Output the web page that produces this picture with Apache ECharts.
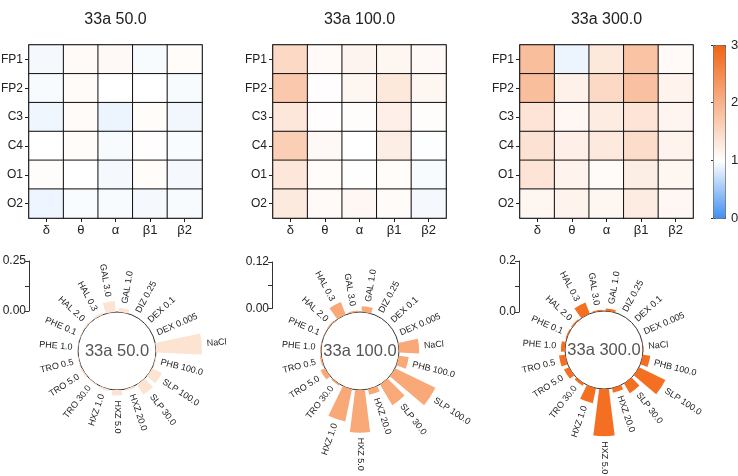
<!DOCTYPE html>
<html>
<head>
<meta charset="utf-8">
<script src="https://cdn.jsdelivr.net/npm/echarts@6/dist/echarts.min.js"></script>
<style>
  html, body { margin: 0; padding: 0; background: #fff; }
  #chart { width: 738px; height: 476px; }
</style>
</head>
<body>
<div id="chart"></div>
<script>
// heatmap axes
const bands = ['δ', 'θ', 'α', 'β1', 'β2'];
const channels = ['FP1', 'FP2', 'C3', 'C4', 'O1', 'O2'];
const doses = ['33a 50.0', '33a 100.0', '33a 300.0'];

// rows = channels, cols = bands
const heat50 = [
  [0.95, 1.06, 1.08, 0.96, 1.04],
  [0.96, 1.05, 1.00, 1.00, 0.96],
  [0.92, 1.05, 0.90, 1.04, 0.93],
  [1.00, 1.04, 0.96, 1.02, 0.97],
  [1.03, 1.00, 0.95, 1.04, 0.95],
  [0.91, 0.97, 0.96, 0.95, 0.96]
];
const heat100 = [
  [1.50, 1.06, 1.14, 1.12, 1.08],
  [1.70, 1.02, 1.12, 1.30, 1.12],
  [1.32, 1.02, 1.03, 1.20, 1.03],
  [1.62, 1.08, 1.00, 1.22, 0.99],
  [1.32, 1.04, 1.01, 1.04, 0.96],
  [1.27, 1.06, 1.10, 1.05, 0.95]
];
const heat300 = [
  [1.85, 0.90, 1.30, 1.78, 1.07],
  [1.85, 1.18, 1.50, 1.80, 1.15],
  [1.35, 1.10, 1.25, 1.35, 1.13],
  [1.38, 1.20, 1.28, 1.45, 1.15],
  [1.35, 1.15, 1.05, 1.22, 1.12],
  [1.12, 1.15, 1.12, 1.25, 1.10]
];

// polar bars, clockwise from the top
const drugs = ['GAL 1.0', 'DIZ 0.25', 'DEX 0.1', 'DEX 0.005', 'NaCl', 'PHB 100.0',
  'SLP 100.0', 'SLP 30.0', 'HXZ 20.0', 'HXZ 5.0', 'HXZ 1.0', 'TRO 30.0', 'TRO 5.0',
  'TRO 0.5', 'PHE 1.0', 'PHE 0.1', 'HAL 2.0', 'HAL 0.3', 'GAL 3.0'];
const bars50 = [0.02, 0, 0, 0, 0.23, 0.005, 0.055, 0.06, 0.01, 0.028, 0.01, 0.005,
  0.01, 0.005, 0.003, 0.003, 0.008, 0.01, 0.055];
const bars100 = [0.015, 0, 0, 0, 0.052, 0.026, 0.116, 0.062, 0.015, 0.11, 0.085, 0.004,
  0.013, 0.004, 0.002, 0.001, 0.003, 0.035, 0.004];
const bars300 = [0.01, 0, 0, 0, 0.002, 0.03, 0.115, 0.044, 0.018, 0.185, 0.06, 0.01,
  0.022, 0.025, 0.016, 0.005, 0.005, 0.047, 0.005];

const scaleMax = [0.25, 0.12, 0.2];
const scaleDigits = [2, 2, 1];

const heats = [heat50, heat100, heat300];
const bars = [bars50, bars100, bars300];
const barColors = ['#fde3d2', '#f9a878', '#f46f22'];

// layout
const FONT = '"Liberation Sans", Arial, sans-serif';
const heatLeft = [29, 273, 520];
const heatTop = 45, heatSize = 173;
const polarCenter = [[117, 351], [360, 351], [604, 350]];
const innerR = 39;
const scaleLeft = [29, 272, 519];
const scaleTop = [261, 262, 261];
const scaleLen = [50, 46.5, 51];

const chart = echarts.init(document.getElementById('chart'));

const grid = [], xAxis = [], yAxis = [], series = [];
const polar = [], angleAxis = [], radiusAxis = [], graphic = [];

const heatTick = { show: true, alignWithLabel: true, inside: false, length: 4,
  lineStyle: { color: '#222', width: 1 } };

heats.forEach((h, i) => {
  grid.push({ left: heatLeft[i], top: heatTop, width: heatSize, height: heatSize,
    outerBoundsMode: 'none', containLabel: false,
    show: true, borderColor: '#555', borderWidth: 1.5, backgroundColor: 'transparent' });
  xAxis.push({
    type: 'category', gridIndex: i, data: bands,
    axisLine: { show: true, lineStyle: { color: '#555', width: 1.5 } },
    axisTick: heatTick,
    axisLabel: { fontSize: 13, color: '#222', margin: 6, fontFamily: FONT },
    splitLine: { show: false }
  });
  yAxis.push({
    type: 'category', gridIndex: i, data: channels, inverse: true,
    axisLine: { show: true, lineStyle: { color: '#555', width: 1.5 } },
    axisTick: heatTick,
    axisLabel: { fontSize: 12, color: '#222', margin: 6, fontFamily: FONT },
    splitLine: { show: false }
  });
  const data = [];
  h.forEach((row, r) => row.forEach((v, c) => data.push([c, r, v])));
  series.push({
    type: 'heatmap', xAxisIndex: i, yAxisIndex: i, data: data, silent: true,
    itemStyle: { borderColor: '#111', borderWidth: 1 }
  });
  graphic.push({
    type: 'text', x: heatLeft[i] + heatSize / 2, y: 20,
    style: { text: doses[i], fontSize: 16, fontFamily: FONT, fill: '#222',
      align: 'center', verticalAlign: 'middle' }
  });
});

// colour bar axis
grid.push({ left: 713, top: heatTop, width: 12, height: heatSize, show: false,
  outerBoundsMode: 'none', containLabel: false });
xAxis.push({ type: 'value', gridIndex: 3, show: false });
yAxis.push({
  type: 'value', gridIndex: 3, position: 'right', min: 0, max: 3, interval: 1, z: 10,
  axisLine: { show: false },
  axisTick: { show: true, inside: true, length: 2, lineStyle: { color: '#333' } },
  axisLabel: { fontSize: 13, color: '#222', margin: 6, fontFamily: FONT },
  splitLine: { show: false }
});

// polar panels
bars.forEach((vals, i) => {
  const g = 4 + i;
  grid.push({ left: scaleLeft[i], top: scaleTop[i], width: 10, height: scaleLen[i], show: false,
    outerBoundsMode: 'none', containLabel: false });
  xAxis.push({ type: 'value', gridIndex: g, show: false });
  yAxis.push({
    type: 'value', gridIndex: g, min: 0, max: scaleMax[i], interval: scaleMax[i] / 2,
    axisLine: { show: true, lineStyle: { color: '#333', width: 1 } },
    axisTick: { show: true, length: 4, lineStyle: { color: '#333' } },
    axisLabel: {
      fontSize: 12, color: '#222', margin: 3, fontFamily: FONT,
      formatter: (v) => (v === 0 || Math.abs(v - scaleMax[i]) < 1e-9) ? v.toFixed(scaleDigits[i]) : ''
    },
    splitLine: { show: false }
  });

  polar.push({ center: polarCenter[i], radius: [innerR, innerR + scaleLen[i]] });
  angleAxis.push({ type: 'category', polarIndex: i, data: drugs, startAngle: 90, show: false });
  radiusAxis.push({ type: 'value', polarIndex: i, min: 0, max: scaleMax[i], show: false });

  series.push({
    type: 'bar', coordinateSystem: 'polar', polarIndex: i, data: vals,
    barCategoryGap: '25%', silent: true,
    itemStyle: { color: barColors[i] }
  });
  series.push({
    type: 'custom', coordinateSystem: 'polar', polarIndex: i, silent: true,
    data: vals.map((v, k) => [v, k]),
    renderItem: (params, api) => {
      const cs = params.coordSys;
      const p = api.coord([api.value(0), api.value(1)]);
      const dx = p[0] - cs.cx, dy = p[1] - cs.cy;
      const len = Math.sqrt(dx * dx + dy * dy);
      const ux = dx / len, uy = dy / len;
      const right = ux > -1e-6;
      const phi = Math.atan2(-uy, ux);
      return {
        type: 'text',
        x: cs.cx + ux * (len + 5), y: cs.cy + uy * (len + 5),
        rotation: right ? phi : phi + Math.PI,
        style: {
          text: drugs[params.dataIndex], fill: '#222', fontSize: 9, fontFamily: FONT,
          align: right ? 'left' : 'right', verticalAlign: 'middle',
          textAlign: right ? 'left' : 'right', textVerticalAlign: 'middle'
        }
      };
    }
  });

  graphic.push({
    type: 'text', x: polarCenter[i][0], y: polarCenter[i][1],
    style: { text: doses[i], fontSize: 16.5, fontFamily: FONT, fill: '#555',
      align: 'center', verticalAlign: 'middle' }
  });
});

// the inner circles
bars.forEach((vals, i) => {
  polar.push({ center: polarCenter[i], radius: [0, innerR] });
  angleAxis.push({
    type: 'value', polarIndex: 3 + i, min: 0, max: 360,
    axisLine: { show: true, lineStyle: { color: '#333', width: 1 } },
    axisTick: { show: false }, axisLabel: { show: false }, splitLine: { show: false }
  });
  radiusAxis.push({ type: 'value', polarIndex: 3 + i, show: false });
});

const option = {
  backgroundColor: '#ffffff',
  animation: false,
  textStyle: { fontFamily: FONT },
  grid: grid,
  xAxis: xAxis,
  yAxis: yAxis,
  polar: polar,
  angleAxis: angleAxis,
  radiusAxis: radiusAxis,
  visualMap: {
    type: 'continuous', min: 0, max: 3, seriesIndex: [0, 1, 2],
    left: 713, top: heatTop, itemWidth: 12, itemHeight: heatSize,
    padding: 0, calculable: false, hoverLink: false,
    borderColor: '#555', borderWidth: 1,
    inRange: { color: ['#3f8ff2', '#ffffff', '#f8b28a', '#f26414'] }
  },
  graphic: graphic,
  series: series
};

chart.setOption(option);
</script>
</body>
</html>
